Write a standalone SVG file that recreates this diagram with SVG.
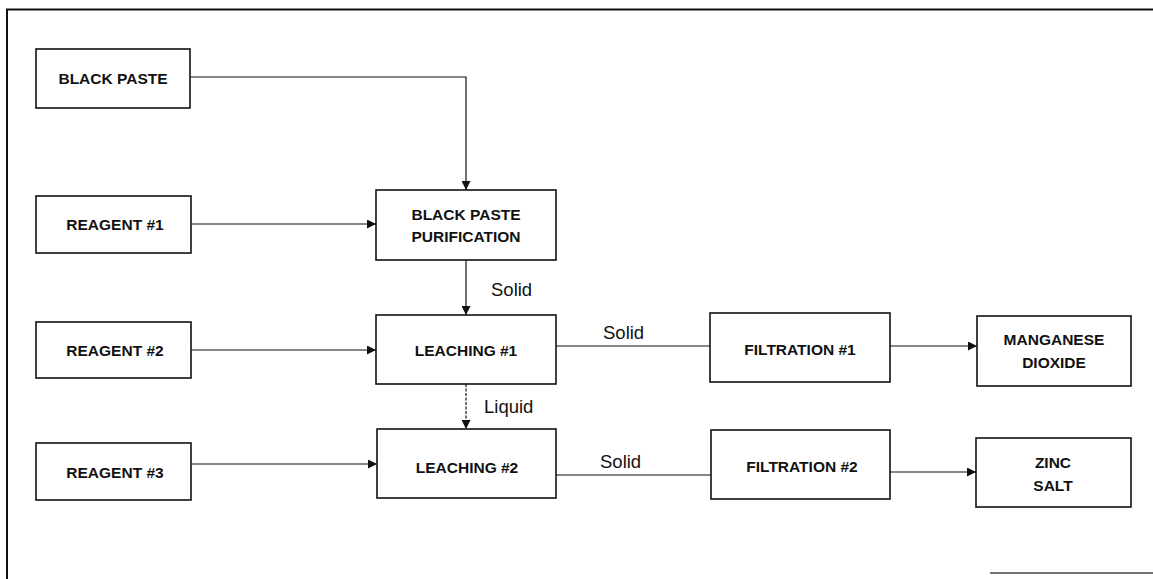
<svg xmlns="http://www.w3.org/2000/svg" width="1153" height="579" viewBox="0 0 1153 579">
<style>
.box{fill:#fff;stroke:#111;stroke-width:1.6}
.t{font-family:"Liberation Sans",Arial,sans-serif;font-weight:bold;font-size:15.5px;fill:#111;text-anchor:middle;dominant-baseline:central}
.lbl{font-family:"Liberation Sans",Arial,sans-serif;font-size:18.5px;fill:#111}
.c{fill:none;stroke:#111;stroke-width:1.2}
.frame{fill:none;stroke:#111;stroke-width:2}
</style>
<defs>
<marker id="ah" viewBox="0 0 10 10" refX="10" refY="5" markerWidth="9" markerHeight="9" markerUnits="userSpaceOnUse" orient="auto">
<path d="M0,0 L10,5 L0,10 Z" fill="#111"/>
</marker>
</defs>
<rect width="1153" height="579" fill="#fff"/>
<g id="frame">
<path class="frame" d="M7,579 V9.5 H1153"/>
<line x1="990" y1="573" x2="1153" y2="573" stroke="#444" stroke-width="1.5"/>
</g>
<g id="connectors">
<path class="c" d="M190,77 H466 V190" marker-end="url(#ah)"/>
<path class="c" d="M191,224 H376" marker-end="url(#ah)"/>
<path class="c" d="M466,260 V315" marker-end="url(#ah)"/>
<path class="c" d="M191,350 H376" marker-end="url(#ah)"/>
<path class="c" d="M556,346 H710"/>
<path class="c" d="M890,346 H977" marker-end="url(#ah)"/>
<path class="c" d="M466,384 V429" stroke-dasharray="3 1.5" marker-end="url(#ah)"/>
<path class="c" d="M191,464 H377" stroke-width="1.6" marker-end="url(#ah)"/>
<path class="c" d="M556,475 H711"/>
<path class="c" d="M890,472 H976" marker-end="url(#ah)"/>
<text class="lbl" x="491" y="296">Solid</text>
<text class="lbl" x="603" y="339">Solid</text>
<text class="lbl" x="484" y="413">Liquid</text>
<text class="lbl" x="600" y="468">Solid</text>
</g>
<g id="black-paste">
<rect class="box" x="36" y="49" width="154" height="59"/>
<text class="t" x="113" y="78">BLACK PASTE</text>
</g>
<g id="reagent-1">
<rect class="box" x="36" y="196" width="155" height="57"/>
<text class="t" x="115" y="224">REAGENT #1</text>
</g>
<g id="purification">
<rect class="box" x="376" y="190" width="180" height="70"/>
<text class="t" x="466" y="214">BLACK PASTE</text>
<text class="t" x="466" y="236">PURIFICATION</text>
</g>
<g id="reagent-2">
<rect class="box" x="36" y="322" width="155" height="56"/>
<text class="t" x="115" y="350">REAGENT #2</text>
</g>
<g id="leaching-1">
<rect class="box" x="376" y="315" width="180" height="69"/>
<text class="t" x="466" y="350">LEACHING #1</text>
</g>
<g id="filtration-1">
<rect class="box" x="710" y="313" width="180" height="69"/>
<text class="t" x="800" y="349">FILTRATION #1</text>
</g>
<g id="manganese-dioxide">
<rect class="box" x="977" y="316" width="154" height="70"/>
<text class="t" x="1054" y="339">MANGANESE</text>
<text class="t" x="1054" y="362">DIOXIDE</text>
</g>
<g id="reagent-3">
<rect class="box" x="36" y="443" width="155" height="57"/>
<text class="t" x="115" y="472">REAGENT #3</text>
</g>
<g id="leaching-2">
<rect class="box" x="377" y="429" width="179" height="69"/>
<text class="t" x="467" y="467">LEACHING #2</text>
</g>
<g id="filtration-2">
<rect class="box" x="711" y="430" width="179" height="69"/>
<text class="t" x="802" y="466">FILTRATION #2</text>
</g>
<g id="zinc-salt">
<rect class="box" x="976" y="438" width="155" height="69"/>
<text class="t" x="1053" y="462">ZINC</text>
<text class="t" x="1053" y="485">SALT</text>
</g>
</svg>
